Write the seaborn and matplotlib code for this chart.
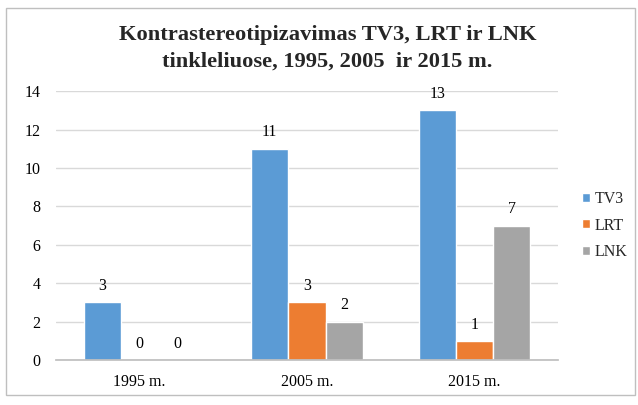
import matplotlib
matplotlib.use("Agg")
import matplotlib.pyplot as plt
import pandas as pd
import seaborn as sns
from matplotlib.patches import Rectangle

years = ["1995 m.", "2005 m.", "2015 m."]
channels = ["TV3", "LRT", "LNK"]
tv3 = [3, 11, 13]
lrt = [0, 3, 1]
lnk = [0, 2, 7]
colors = ["#5B9BD5", "#ED7D31", "#A5A5A5"]

rows = []
for name, vals in zip(channels, [tv3, lrt, lnk]):
    for y, v in zip(years, vals):
        rows.append({"Metai": y, "Kanalas": name, "Reiksme": v})
df = pd.DataFrame(rows)

sns.set_theme(style="white")
plt.rcParams["font.family"] = ["Liberation Serif", "DejaVu Serif"]

fig = plt.figure(figsize=(6.38, 4.05), dpi=100)
ax = fig.add_axes([0.0878, 0.111, 0.7868, 0.664])

sns.barplot(data=df, x="Metai", y="Reiksme", hue="Kanalas", hue_order=channels,
            palette=colors, width=0.667, saturation=1, ax=ax)

for cont in ax.containers:
    ax.bar_label(cont, fmt="%d", padding=6, fontsize=11.5, color="#000000")

ax.set_ylim(0, 14)
ax.set_yticks(range(0, 15, 2))
ax.yaxis.grid(True, color="#D9D9D9", linewidth=1)
ax.set_axisbelow(True)
for s in ["top", "right", "left"]:
    ax.spines[s].set_visible(False)
ax.spines["bottom"].set_color("#BFBFBF")
ax.tick_params(axis="both", length=0, labelsize=11.5, colors="#000000")
ax.tick_params(axis="y", pad=11)
ax.tick_params(axis="x", pad=10)
ax.set_xlabel("")
ax.set_ylabel("")

leg = ax.legend(loc="center left", bbox_to_anchor=(1.025, 0.5), frameon=False,
                fontsize=11.5, handlelength=0.5, handleheight=0.5,
                handletextpad=0.3, labelspacing=0.65, borderpad=0.2)

fig.text(0.513, 0.88, "Kontrastereotipizavimas TV3, LRT ir LNK\ntinkleliuose, 1995, 2005  ir 2015 m.",
         ha="center", va="center", fontsize=16.2, fontweight="bold", linespacing=1.45)

fig.patches.append(Rectangle((0.01, 0.025), 0.985, 0.955, transform=fig.transFigure,
                             fill=False, edgecolor="#BFBFBF", linewidth=1))

fig.savefig("out.png", dpi=100)
